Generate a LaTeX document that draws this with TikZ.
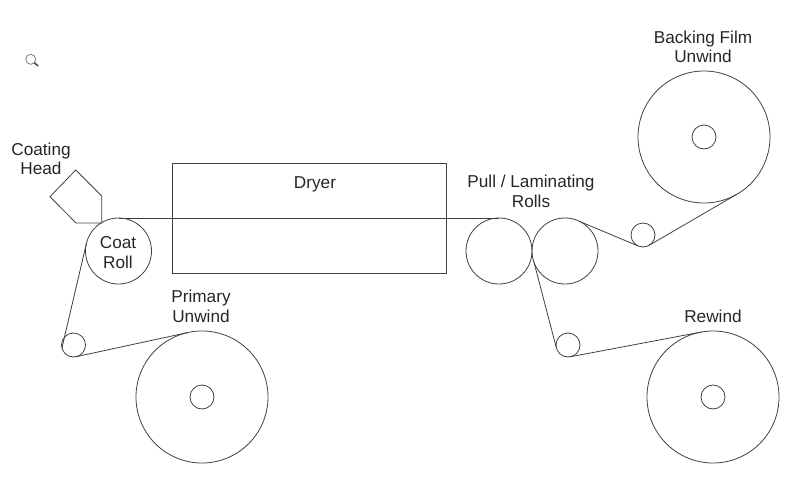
\documentclass[tikz,border=0pt]{standalone}
\usepackage{fontspec}
\setmainfont{Liberation Sans}
\definecolor{webgray}{HTML}{404040}
\tikzset{
  roll/.style={draw=webgray, circle, line width=0.8pt, inner sep=0pt, outer sep=0pt, minimum size=#1},
  web/.style={draw=webgray, line width=0.8pt},
  lbl/.style={align=center, inner sep=0pt, text=black!85, font=\fontsize{17.2}{19.5}\selectfont}
}
\begin{document}
\begin{tikzpicture}[x=1pt, y=-1pt]
    \useasboundingbox (0,0) rectangle (800,479);

    % Magnifier mark
    \draw[gray, line width=0.8pt] (30.7,59.3) circle (5);
    \draw[black!70, line width=1.6pt] (34.3,62.6) -- (38,66);

    % Coating head and dryer
    \draw[web] (75.7,170) -- (101.7,196) -- (101.7,223) -- (76,223) -- (50,196.7) -- cycle;
    \node[web, draw, rectangle, inner sep=0pt, outer sep=0pt, minimum width=274pt, minimum height=110pt] (dryer) at (309,218) {};

    % Large rolls
    \node[roll=132pt] (primary) at (202,397) {};
    \node[roll=132pt] (rewind) at (713,397) {};
    \node[roll=132pt] (backing) at (704,137) {};
    \node[roll=24pt] (primarycore) at (202,397) {};
    \node[roll=24pt] (rewindcore) at (713,397) {};
    \node[roll=24pt] (backingcore) at (704,137) {};

    % Process rolls
    \node[roll=66pt] (coat) at (118.5,251) {};
    \node[roll=66pt] (pull) at (499,251) {};
    \node[roll=66pt] (lam) at (565,251) {};

    % Idlers
    \node[roll=24pt] (idlera) at (73.5,345) {};
    \node[roll=24pt] (idlerb) at (568,345) {};
    \node[roll=24pt] (idlerc) at (643,235) {};

    % Web path
    \draw[web] (primary.102) -- (idlera.-78);
    \draw[web] (idlera.195) -- (coat.165);
    \draw[web] (coat.90) -- (pull.90);
    \draw[web] (lam.200) -- (idlerb.195);
    \draw[web] (idlerb.-80) -- (rewind.100);
    \draw[web] (lam.63) -- (idlerc.-115);
    \draw[web] (idlerc.-60) -- (backing.-60);

    % Labels
    \node[lbl] (headlbl) at (41,159) {Coating\\Head};
    \node[lbl] (coatlbl) at (118,252.5) {Coat\\Roll};
    \node[lbl] (dryerlbl) at (315,184) {Dryer};
    \node[lbl] (primarylbl) at (201,306.5) {Primary\\Unwind};
    \node[lbl] (pulllbl) at (531,191.5) {Pull / Laminating\\Rolls};
    \node[lbl] (backinglbl) at (703,47) {Backing Film\\Unwind};
    \node[lbl] (rewindlbl) at (713,316) {Rewind};
\end{tikzpicture}
\end{document}
